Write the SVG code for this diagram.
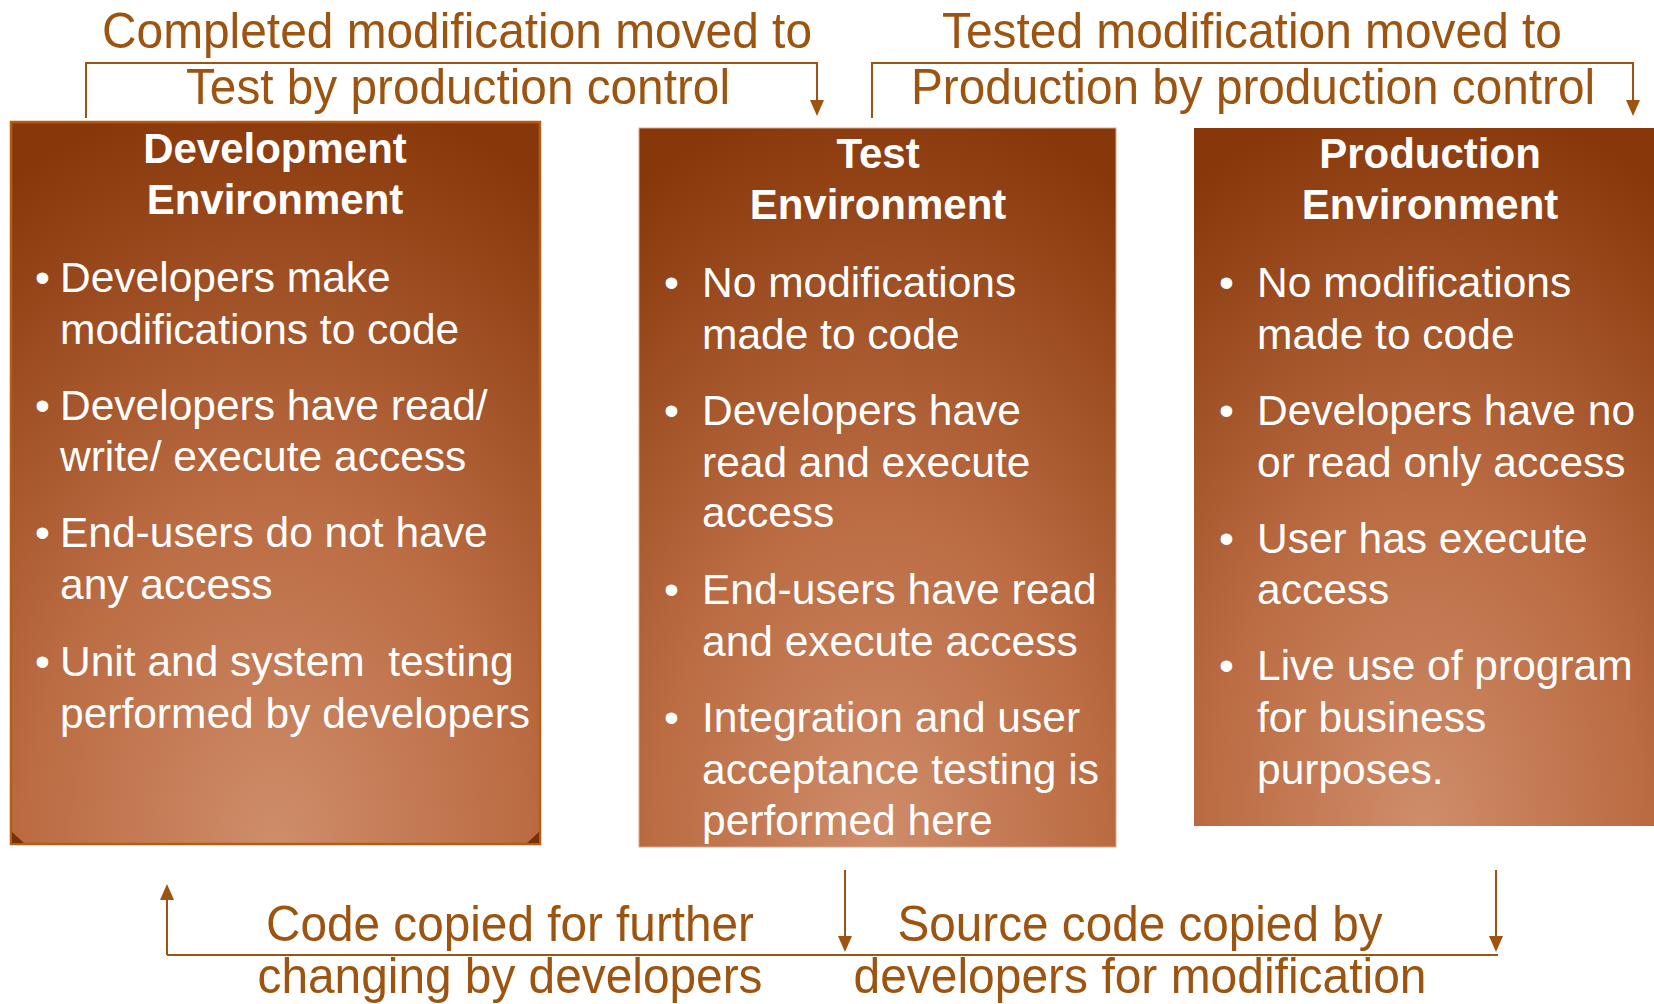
<svg xmlns="http://www.w3.org/2000/svg" width="1654" height="1004" viewBox="0 0 1654 1004">
<style>
.lbl{font-family:"Liberation Sans",Arial,sans-serif;font-size:50px;fill:#9c5410;text-anchor:middle}
.ttl{font-family:"Liberation Sans",Arial,sans-serif;font-size:42px;font-weight:bold;fill:#ffffff;text-anchor:middle}
.txt{font-family:"Liberation Sans",Arial,sans-serif;font-size:42.5px;fill:#ffffff}
.con{stroke:#9c5410;stroke-width:2;fill:none}
.head{fill:#9c5410}
</style>
<defs>
<radialGradient id="g" cx="0.5" cy="1" r="1.05" fx="0.5" fy="1">
<stop offset="0" stop-color="#cf8d6a"/>
<stop offset="0.45" stop-color="#bb6c43"/>
<stop offset="1" stop-color="#873709"/>
</radialGradient>
</defs>
<g id="connectors">
<path class="con" d="M86,118 V63 H817 V100"/>
<path class="head" d="M810,100 L824,100 L817,116 z"/>
<path class="con" d="M872,118 V63 H1633 V100"/>
<path class="head" d="M1626,100 L1640,100 L1633,116 z"/>
<path class="con" d="M167,955 H1498"/>
<path class="con" d="M167,955 V900"/>
<path class="head" d="M160,900 L174,900 L167,884 z"/>
<path class="con" d="M845,870 V936"/>
<path class="head" d="M838,936 L852,936 L845,952 z"/>
<path class="con" d="M1496,870 V936"/>
<path class="head" d="M1489,936 L1503,936 L1496,952 z"/>
<text class="lbl" x="457" y="48" textLength="710" lengthAdjust="spacingAndGlyphs">Completed modification moved to</text>
<text class="lbl" x="458" y="104" textLength="544" lengthAdjust="spacingAndGlyphs">Test by production control</text>
<text class="lbl" x="1252" y="48" textLength="620" lengthAdjust="spacingAndGlyphs">Tested modification moved to</text>
<text class="lbl" x="1253" y="104" textLength="684" lengthAdjust="spacingAndGlyphs">Production by production control</text>
<text class="lbl" x="510" y="941" textLength="488" lengthAdjust="spacingAndGlyphs">Code copied for further</text>
<text class="lbl" x="510" y="993" textLength="505" lengthAdjust="spacingAndGlyphs">changing by developers</text>
<text class="lbl" x="1140" y="941" textLength="485" lengthAdjust="spacingAndGlyphs">Source code copied by</text>
<text class="lbl" x="1140" y="993" textLength="573" lengthAdjust="spacingAndGlyphs">developers for modification</text>
</g>
<g id="dev">
<rect x="11" y="122" width="529" height="722" fill="url(#g)" stroke="#b65d12" stroke-width="2.5"/>
<path d="M12,832 L24,843 L12,843 z" fill="#7a3006"/>
<path d="M539,832 L527,843 L539,843 z" fill="#7a3006"/>
<text class="ttl" x="275" y="163">Development</text>
<text class="ttl" x="275" y="214">Environment</text>
<g class="txt">
<text x="35" y="292">•</text><text x="60" y="292">Developers make</text>
<text x="60" y="344">modifications to code</text>
<text x="35" y="420">•</text><text x="60" y="420">Developers have read/</text>
<text x="60" y="471">write/ execute access</text>
<text x="35" y="547">•</text><text x="60" y="547">End-users do not have</text>
<text x="60" y="599">any access</text>
<text x="35" y="676">•</text><text x="60" y="676" xml:space="preserve">Unit and system  testing</text>
<text x="60" y="728">performed by developers</text>
</g>
</g>
<g id="test">
<rect x="639" y="128" width="477" height="719" fill="url(#g)" stroke="#d9a88a" stroke-width="1"/>
<text class="ttl" x="878" y="168">Test</text>
<text class="ttl" x="878" y="219">Environment</text>
<g class="txt">
<text x="664" y="297">•</text><text x="702" y="297">No modifications</text>
<text x="702" y="349">made to code</text>
<text x="664" y="425">•</text><text x="702" y="425">Developers have</text>
<text x="702" y="477">read and execute</text>
<text x="702" y="527">access</text>
<text x="664" y="604">•</text><text x="702" y="604">End-users have read</text>
<text x="702" y="656">and execute access</text>
<text x="664" y="732">•</text><text x="702" y="732">Integration and user</text>
<text x="702" y="784">acceptance testing is</text>
<text x="702" y="835">performed here</text>
</g>
</g>
<g id="production">
<rect x="1194" y="128" width="460" height="698" fill="url(#g)"/>
<text class="ttl" x="1430" y="168">Production</text>
<text class="ttl" x="1430" y="219">Environment</text>
<g class="txt">
<text x="1219" y="297">•</text><text x="1257" y="297">No modifications</text>
<text x="1257" y="349">made to code</text>
<text x="1219" y="425">•</text><text x="1257" y="425">Developers have no</text>
<text x="1257" y="477">or read only access</text>
<text x="1219" y="553">•</text><text x="1257" y="553">User has execute</text>
<text x="1257" y="604">access</text>
<text x="1219" y="680">•</text><text x="1257" y="680">Live use of program</text>
<text x="1257" y="732">for business</text>
<text x="1257" y="784">purposes.</text>
</g>
</g>
</svg>
